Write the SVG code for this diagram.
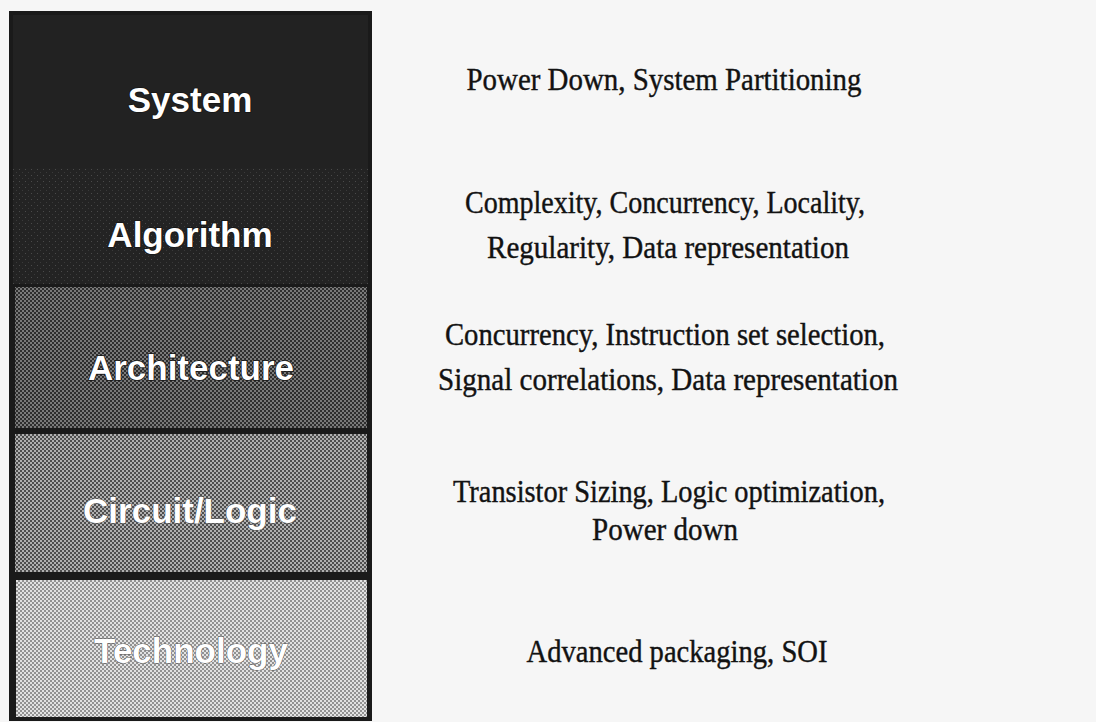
<svg xmlns="http://www.w3.org/2000/svg" width="1096" height="722" viewBox="0 0 1096 722">
  <style>
    .label { font-family: "Liberation Sans", Arial, sans-serif; font-weight: bold; font-size: 35px; fill: #ffffff; text-anchor: middle; stroke: #151515; stroke-width: 1.6px; paint-order: stroke; }
    .label.soft { stroke: #555555; stroke-width: 1px; }
    .desc { font-family: "Liberation Serif", "Times New Roman", serif; font-size: 32px; fill: #121212; stroke: #121212; stroke-width: 0.4px; text-anchor: middle; }
  </style>
  <defs>
    <!-- halftone screens for the layer fills -->
    <pattern id="screenAlgo" width="6" height="6" patternUnits="userSpaceOnUse">
      <rect width="6" height="6" fill="#232323"/>
      <rect x="1" y="1" width="1" height="1" fill="#4a4a4a"/>
      <rect x="4" y="4" width="1" height="1" fill="#3a3a3a"/>
    </pattern>
    <pattern id="screenArch" width="4" height="4" patternUnits="userSpaceOnUse">
      <rect width="4" height="4" fill="#2e2e2e"/>
      <rect x="0" y="0" width="2" height="2" fill="#7a7a7a"/>
      <rect x="2" y="2" width="2" height="2" fill="#7a7a7a"/>
    </pattern>
    <pattern id="screenCirc" width="4" height="4" patternUnits="userSpaceOnUse">
      <rect width="4" height="4" fill="#4e4e4e"/>
      <rect x="0" y="0" width="2" height="2" fill="#b0b0b0"/>
      <rect x="2" y="2" width="2" height="2" fill="#b0b0b0"/>
    </pattern>
    <pattern id="screenTech" width="4" height="4" patternUnits="userSpaceOnUse">
      <rect width="4" height="4" fill="#929292"/>
      <rect x="0" y="0" width="2" height="2" fill="#e2e2e2"/>
      <rect x="2" y="2" width="2" height="2" fill="#e2e2e2"/>
    </pattern>
  </defs>

  <!-- page -->
  <rect width="1096" height="722" fill="#f6f6f6"/>

  <!-- outer frame of the stack -->
  <rect id="stack-frame" x="9" y="11" width="363" height="710" fill="#1a1a1a"/>

  <g id="layer-system">
    <rect x="13" y="15" width="355" height="153" fill="#222222"/>
    <text class="label" x="190" y="112">System</text>
    <text class="desc" x="664" y="90" textLength="395" lengthAdjust="spacingAndGlyphs">Power Down, System Partitioning</text>
  </g>

  <g id="layer-algorithm">
    <rect x="13" y="168" width="355" height="116" fill="url(#screenAlgo)"/>
    <text class="label" x="190" y="247">Algorithm</text>
    <text class="desc" x="665" y="213" textLength="400" lengthAdjust="spacingAndGlyphs">Complexity, Concurrency, Locality,</text>
    <text class="desc" x="668" y="258" textLength="362" lengthAdjust="spacingAndGlyphs">Regularity, Data representation</text>
  </g>

  <g id="layer-architecture">
    <rect x="15" y="287" width="352" height="141" fill="url(#screenArch)"/>
    <text class="label" x="191" y="380">Architecture</text>
    <text class="desc" x="665" y="345" textLength="440" lengthAdjust="spacingAndGlyphs">Concurrency, Instruction set selection,</text>
    <text class="desc" x="668" y="390" textLength="460" lengthAdjust="spacingAndGlyphs">Signal correlations, Data representation</text>
  </g>

  <g id="layer-circuit">
    <rect x="15" y="434" width="352" height="138" fill="url(#screenCirc)"/>
    <text class="label soft" x="190" y="523">Circuit/Logic</text>
    <text class="desc" x="669" y="502" textLength="432" lengthAdjust="spacingAndGlyphs">Transistor Sizing, Logic optimization,</text>
    <text class="desc" x="665" y="540" textLength="146" lengthAdjust="spacingAndGlyphs">Power down</text>
  </g>

  <g id="layer-technology">
    <rect x="16" y="580" width="351" height="137" fill="url(#screenTech)"/>
    <text class="label soft" x="191" y="663">Technology</text>
    <text class="desc" x="677" y="662" textLength="301" lengthAdjust="spacingAndGlyphs">Advanced packaging, SOI</text>
  </g>

  <g id="connectors"/>
</svg>
